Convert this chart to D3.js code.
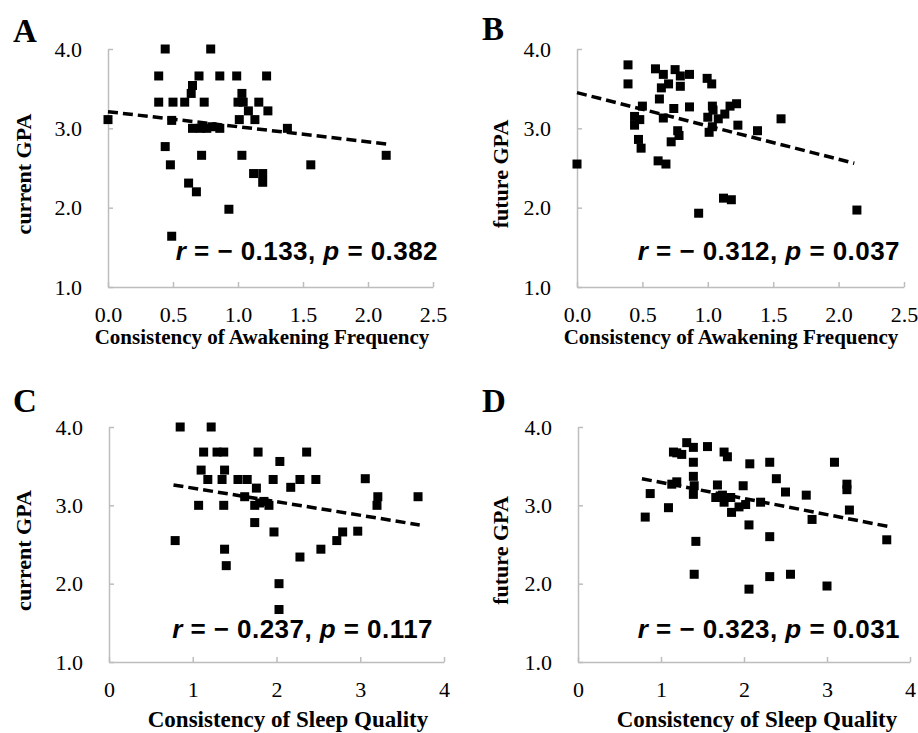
<!DOCTYPE html>
<meta charset="utf-8">
<style>
  body { margin: 0; background: #fff; }
  .tick text { font-family: "Liberation Serif", "Times New Roman", serif; font-size: 22px; fill: #000; }
  .axis path, .axis line { stroke: #bdbdbd; stroke-width: 1.5px; }
  .ylab, .xlab, .letter { font-family: "Liberation Serif", "Times New Roman", serif; font-weight: bold; }
  .stat { font-family: "Liberation Sans", Arial, sans-serif; font-weight: bold; font-size: 26px; letter-spacing: 0.45px; }
</style>
<svg width="918" height="733"></svg>
<script src="https://cdn.jsdelivr.net/npm/d3@7"></script>
<script>

// data: [consistency, GPA]
var pointsA = [
  [0.00,3.11],[0.44,4.00],[0.79,4.00],[0.39,3.66],[0.70,3.66],[0.86,3.66],[0.99,3.66],[1.22,3.66],
  [0.65,3.54],[0.64,3.44],[0.39,3.33],[0.50,3.33],[0.59,3.33],[0.74,3.33],[1.03,3.44],[1.00,3.33],
  [1.04,3.33],[1.16,3.33],[1.08,3.22],[1.23,3.22],[0.49,3.10],[1.01,3.11],[1.13,3.11],[0.65,3.00],
  [0.71,3.00],[0.76,3.00],[0.80,3.02],[0.86,3.00],[1.38,3.00],[0.44,2.77],[0.48,2.54],[0.72,2.66],
  [1.03,2.66],[0.62,2.31],[0.68,2.20],[1.12,2.43],[1.19,2.43],[1.19,2.32],[1.56,2.54],[0.93,1.98],
  [0.49,1.64],[2.14,2.66]
];
var pointsB = [
  [0.00,2.55],[0.39,3.80],[0.39,3.56],[0.44,3.15],[0.44,3.04],[0.48,3.11],[0.50,3.28],[0.47,2.86],
  [0.49,2.75],[0.60,3.75],[0.66,3.68],[0.645,3.51],[0.70,3.56],[0.63,3.37],[0.66,3.13],[0.62,2.59],
  [0.68,2.55],[0.75,3.74],[0.79,3.66],[0.79,3.53],[0.86,3.68],[0.74,3.25],[0.86,3.27],[0.77,2.97],
  [0.78,2.91],[0.72,2.83],[0.995,3.63],[1.03,3.56],[1.00,3.14],[1.035,3.28],[1.04,3.23],[1.01,2.95],
  [1.035,3.02],[1.08,3.12],[1.13,3.18],[1.17,3.28],[1.22,3.31],[1.23,3.04],[1.38,2.97],[1.56,3.12],
  [1.12,2.12],[1.18,2.10],[0.93,1.93],[2.14,1.97]
];
var pointsC = [
  [0.85,4.00],[1.22,4.00],[1.13,3.68],[1.29,3.68],[1.37,3.68],[1.78,3.68],[2.36,3.68],[2.04,3.56],
  [1.10,3.45],[1.38,3.45],[1.18,3.33],[1.35,3.33],[1.54,3.33],[1.65,3.33],[1.96,3.33],[2.28,3.33],
  [2.47,3.33],[3.06,3.34],[1.76,3.22],[2.17,3.23],[1.62,3.11],[1.07,3.00],[1.37,3.00],[1.74,3.00],
  [1.80,3.03],[1.85,3.05],[1.91,3.00],[3.21,3.11],[3.20,3.00],[3.69,3.11],[1.74,2.78],[1.97,2.66],
  [0.79,2.55],[2.72,2.55],[2.79,2.66],[2.97,2.67],[1.38,2.44],[1.40,2.23],[2.53,2.44],[2.28,2.34],
  [2.03,2.00],[2.03,1.67]
];
var pointsD = [
  [0.81,2.85],[0.87,3.15],[1.09,2.97],[1.15,3.68],[1.19,3.67],[1.25,3.65],[1.13,3.27],[1.19,3.30],
  [1.31,3.80],[1.39,3.74],[1.39,3.55],[1.39,3.37],[1.40,3.25],[1.39,3.14],[1.56,3.75],[1.42,2.54],
  [1.40,2.12],[1.68,3.26],[1.66,3.10],[1.76,3.68],[1.80,3.62],[1.74,3.13],[1.76,3.04],[1.84,3.10],
  [1.85,2.91],[1.94,2.98],[1.99,3.25],[2.02,3.01],[2.07,3.53],[2.06,2.75],[2.06,1.93],[2.20,3.04],
  [2.31,3.55],[2.31,2.60],[2.31,2.09],[2.39,3.34],[2.50,3.17],[2.56,2.12],[2.75,3.13],[2.82,2.82],
  [3.00,1.97],[3.09,3.55],[3.24,3.27],[3.24,3.20],[3.27,2.94],[3.72,2.56]
];

// fitted trend lines (end points)
var trendA = [[0.00,3.21],[2.16,2.80]];
var trendB = [[0.00,3.45],[2.12,2.56]];
var trendC = [[0.77,3.26],[3.71,2.75]];
var trendD = [[0.77,3.34],[3.74,2.73]];

var statsA = ["− 0.133", "0.382"];
var statsB = ["− 0.312", "0.037"];
var statsC = ["− 0.237", "0.117"];
var statsD = ["− 0.323", "0.031"];

var xTicksAwake = [0, 0.5, 1.0, 1.5, 2.0, 2.5];
var xTicksSleep = [0, 1, 2, 3, 4];
var yTicks = [1.0, 2.0, 3.0, 4.0];

var titleAwake = "Consistency of Awakening Frequency";
var titleSleep = "Consistency of Sleep Quality";

var svg = d3.select("svg");

var panels = [
  {letter: "A", pts: pointsA, trend: trendA, stats: statsA, ylab: "current GPA", xlab: titleAwake, xmax: 2.5, xt: xTicksAwake, xf: ".1f",
   left: 108, right: 433, top: 49, bottom: 287, lx: 13, ly: 42, ylx: 23, xlx: 262, xly: 344, xls: 21, statx: 438, staty: 260},
  {letter: "B", pts: pointsB, trend: trendB, stats: statsB, ylab: "future GPA", xlab: titleAwake, xmax: 2.5, xt: xTicksAwake, xf: ".1f",
   left: 577, right: 904, top: 49, bottom: 287, lx: 482, ly: 40, ylx: 500, xlx: 731, xly: 344, xls: 21, statx: 900, staty: 260},
  {letter: "C", pts: pointsC, trend: trendC, stats: statsC, ylab: "current GPA", xlab: titleSleep, xmax: 4, xt: xTicksSleep, xf: "d",
   left: 109, right: 444, top: 427, bottom: 662, lx: 13, ly: 412, ylx: 23, xlx: 288, xly: 727, xls: 23, statx: 433, staty: 638},
  {letter: "D", pts: pointsD, trend: trendD, stats: statsD, ylab: "future GPA", xlab: titleSleep, xmax: 4, xt: xTicksSleep, xf: "d",
   left: 578, right: 910, top: 427, bottom: 662, lx: 482, ly: 412, ylx: 500, xlx: 757, xly: 727, xls: 23, statx: 900, staty: 638}
];

panels.forEach(function(p) {
  var x = d3.scaleLinear().domain([0, p.xmax]).range([p.left, p.right]);
  var y = d3.scaleLinear().domain([1, 4]).range([p.bottom, p.top]);
  var g = svg.append("g");

  // axes, ticks pointing inward
  g.append("g")
      .attr("class", "axis")
      .attr("transform", "translate(0," + p.bottom + ")")
      .call(d3.axisBottom(x).tickValues(p.xt).tickFormat(d3.format(p.xf)).tickSizeInner(-5).tickSizeOuter(0).tickPadding(19));
  g.append("g")
      .attr("class", "axis")
      .attr("transform", "translate(" + p.left + ",0)")
      .call(d3.axisLeft(y).tickValues(yTicks).tickFormat(d3.format(".1f")).tickSizeInner(-5).tickSizeOuter(0).tickPadding(26));

  // trend line
  g.append("path")
      .datum(p.trend)
      .attr("fill", "none")
      .attr("stroke", "#000")
      .attr("stroke-width", 3.5)
      .attr("stroke-dasharray", "10,5")
      .attr("d", d3.line().x(function(d) { return x(d[0]); }).y(function(d) { return y(d[1]); }));

  // points
  var s = 9;
  g.selectAll("rect.pt")
    .data(p.pts)
    .enter().append("rect")
      .attr("class", "pt")
      .attr("x", function(d) { return x(d[0]) - s / 2; })
      .attr("y", function(d) { return y(d[1]) - s / 2; })
      .attr("width", s)
      .attr("height", s)
      .attr("fill", "#000");

  // r / p annotation
  var t = g.append("text")
      .attr("class", "stat")
      .attr("x", p.statx)
      .attr("y", p.staty)
      .attr("text-anchor", "end");
  t.append("tspan").attr("font-style", "italic").text("r");
  t.append("tspan").text(" = " + p.stats[0] + ", ");
  t.append("tspan").attr("font-style", "italic").text("p");
  t.append("tspan").text(" = " + p.stats[1]);

  // labels
  g.append("text")
      .attr("class", "letter")
      .attr("x", p.lx)
      .attr("y", p.ly)
      .attr("font-size", 33)
      .text(p.letter);

  g.append("text")
      .attr("class", "ylab")
      .attr("font-size", 22)
      .attr("text-anchor", "middle")
      .attr("dy", "0.35em")
      .attr("transform", "translate(" + p.ylx + "," + ((p.top + p.bottom) / 2 + 6) + ") rotate(-90)")
      .text(p.ylab);

  g.append("text")
      .attr("class", "xlab")
      .attr("font-size", p.xls)
      .attr("text-anchor", "middle")
      .attr("x", p.xlx)
      .attr("y", p.xly)
      .text(p.xlab);
});

</script>
